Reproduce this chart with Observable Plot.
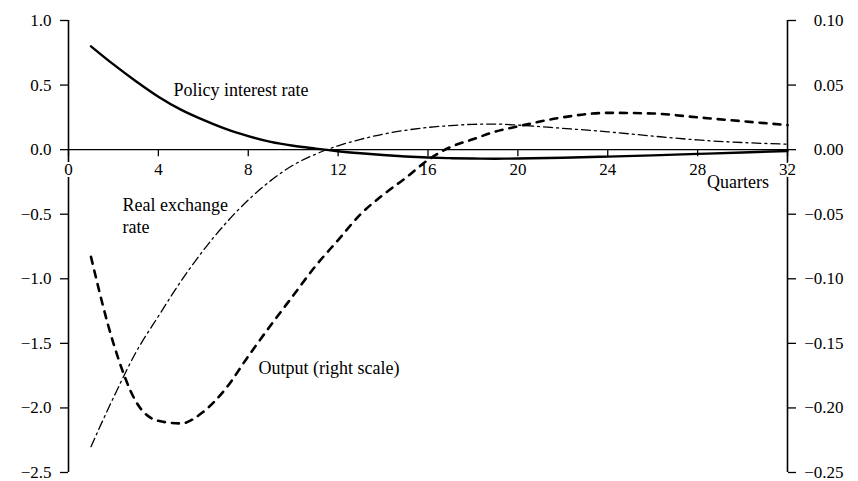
<!DOCTYPE html>
<html><head><meta charset="utf-8">
<script src="https://cdn.jsdelivr.net/npm/d3@7"></script>
<script src="https://cdn.jsdelivr.net/npm/@observablehq/plot@0.6"></script>
<style>body{margin:0;background:#fff} svg{display:block}</style>
</head><body><div id="chart"></div>
<script>
const quarters     = [1,2,3,4,5,6,7,8,9,10,11,12,13,14,15,16,17,18,19,20,22,24,26,28,30,32];
const policyRate   = [0.80,0.66,0.53,0.41,0.31,0.23,0.16,0.105,0.06,0.03,0.008,-0.012,-0.028,-0.042,-0.053,-0.061,-0.066,-0.069,-0.07,-0.069,-0.063,-0.054,-0.044,-0.033,-0.022,-0.01];
const exchangeRate = [-2.30,-1.92,-1.57,-1.29,-1.02,-0.78,-0.57,-0.39,-0.24,-0.12,-0.035,0.03,0.08,0.12,0.15,0.172,0.186,0.196,0.198,0.19,0.165,0.138,0.105,0.075,0.055,0.042];
const outputRight  = [-0.083,-0.15,-0.195,-0.21,-0.212,-0.203,-0.185,-0.16,-0.136,-0.113,-0.09,-0.07,-0.05,-0.035,-0.022,-0.008,0.002,0.008,0.014,0.018,0.025,0.0285,0.028,0.025,0.022,0.019];
const xTicks       = [0,4,8,12,16,20,24,28,32];
const leftTicks    = [1,0.5,0,-0.5,-1,-1.5,-2,-2.5];
const rightTicks   = [0.10,0.05,0,-0.05,-0.10,-0.15,-0.20,-0.25];
const rightScale   = 10; // right axis values × 10 = left axis units

const minus = s => s.replace("-", "\u2212");
const policyData = quarters.map((q, i) => ({q, v: policyRate[i]}));
const exchangeData = quarters.map((q, i) => ({q, v: exchangeRate[i]}));
const outputData = quarters.map((q, i) => ({q, v: outputRight[i]}));

const chart = Plot.plot({
  width: 858, height: 481,
  marginLeft: 68, marginRight: 71, marginTop: 20, marginBottom: 9,
  x: {domain: [0, 32], axis: null},
  y: {domain: [-2.5, 1]},
  style: {fontFamily: "'Liberation Serif', 'Times New Roman', serif", fontSize: "17px", background: "white", color: "black"},
  marks: [
    Plot.axisY(leftTicks, {anchor: "left", tickSize: 8, tickPadding: 9, tickFormat: d => minus(d.toFixed(1)), label: null, strokeWidth: 1.3}),
    Plot.axisY(rightTicks.map(d => d * rightScale), {anchor: "right", tickSize: 8, tickPadding: 48, textAnchor: "end", tickFormat: d => minus((d / rightScale).toFixed(2)), label: null, strokeWidth: 1.3}),
    Plot.ruleX([0, 32], {y1: -2.5, y2: 1, strokeWidth: 1.6}),
    Plot.ruleY([0], {x1: 0, x2: 32, strokeWidth: 1.3}),
    Plot.ruleX(xTicks, {x: d => d, y1: 0, y2: -0.055, strokeWidth: 1.3}),
    Plot.text(xTicks, {x: d => d, y: 0, dy: 20, text: d => String(d), stroke: "white", strokeWidth: 4, paintOrder: "stroke", fill: "black"}),
    Plot.line(exchangeData, {x: "q", y: "v", curve: "monotone-x", stroke: "black", strokeWidth: 1.3, strokeDasharray: "9,4,2,4"}),
    Plot.line(outputData, {x: "q", y: d => d.v * rightScale, curve: "monotone-x", stroke: "black", strokeWidth: 2.6, strokeDasharray: "7,7"}),
    Plot.line(policyData, {x: "q", y: "v", curve: "monotone-x", stroke: "black", strokeWidth: 2.4}),
    Plot.text(["Policy interest rate"], {x: 4.67, y: 0.46, text: d => d, textAnchor: "start", fontSize: 18}),
    Plot.text(["Real exchange\nrate"], {x: 2.4, y: -0.505, text: d => d, textAnchor: "start", lineHeight: 1.25, fontSize: 18}),
    Plot.text(["Output (right scale)"], {x: 8.46, y: -1.69, text: d => d, textAnchor: "start", fontSize: 18}),
    Plot.text(["Quarters"], {x: 29.8, y: -0.25, text: d => d, textAnchor: "middle", fontSize: 18})
  ]
});
document.getElementById("chart").append(chart);
</script>
</body></html>
